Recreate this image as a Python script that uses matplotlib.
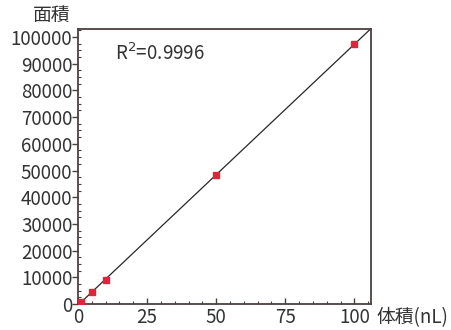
import numpy as np
import matplotlib
matplotlib.use("Agg")
import matplotlib.pyplot as plt
from matplotlib.ticker import MultipleLocator

plt.rcParams['font.family'] = ['Noto Sans CJK JP', 'DejaVu Sans']

# calibration points
volume_nl = [1, 5, 10, 50, 100]
area = [800, 4600, 9000, 48300, 97400]
r_squared = "0.9996"

x_ticks = [0, 25, 50, 75, 100]
y_ticks = list(range(0, 100001, 10000))

fig = plt.figure(figsize=(4.51, 3.30), dpi=100)
ax = fig.add_axes([78 / 451, 26 / 330, 293 / 451, 275 / 330])

# least-squares fit line, drawn across the whole frame
slope, intercept = np.polyfit(volume_nl, area, 1)
xfit = np.array([0, 106])
ax.plot(xfit, slope * xfit + intercept, color="#2b2626", lw=0.9, zorder=2)
ax.plot(volume_nl, area, ls="none", marker="s", ms=5, color="#e2233c", zorder=3)

ax.set_xlim(0, 106)
ax.set_ylim(0, 103000)
ax.set_xticks(x_ticks)
ax.set_yticks(y_ticks)
ax.xaxis.set_minor_locator(MultipleLocator(5))
ax.yaxis.set_minor_locator(MultipleLocator(2500))

fs = 13.5
frame = "#4a4040"
for s in ax.spines.values():
    s.set_color(frame)
    s.set_linewidth(1.3)
ax.tick_params(axis="both", which="major", labelsize=fs, colors=frame,
               labelcolor="#333333", length=4, width=1, pad=0)
ax.tick_params(axis="x", which="both", direction="in")
ax.tick_params(axis="x", which="major", pad=2)
ax.tick_params(axis="y", which="minor", length=2, width=0.8, color=frame, direction="in")
ax.tick_params(axis="x", which="minor", length=2, width=0.8, color=frame)

ax.text(0.125, 0.91, "R$^2$=" + r_squared, transform=ax.transAxes,
        fontsize=fs, color="#333333", va="center")

fig.text(33 / 451, 1 - 15 / 330, "面積", fontsize=fs, color="#333333", va="center")
fig.text(376 / 451, 1 - 318 / 330, "体積(nL)", fontsize=fs, color="#333333", va="center")

fig.savefig("out.png", dpi=100)
